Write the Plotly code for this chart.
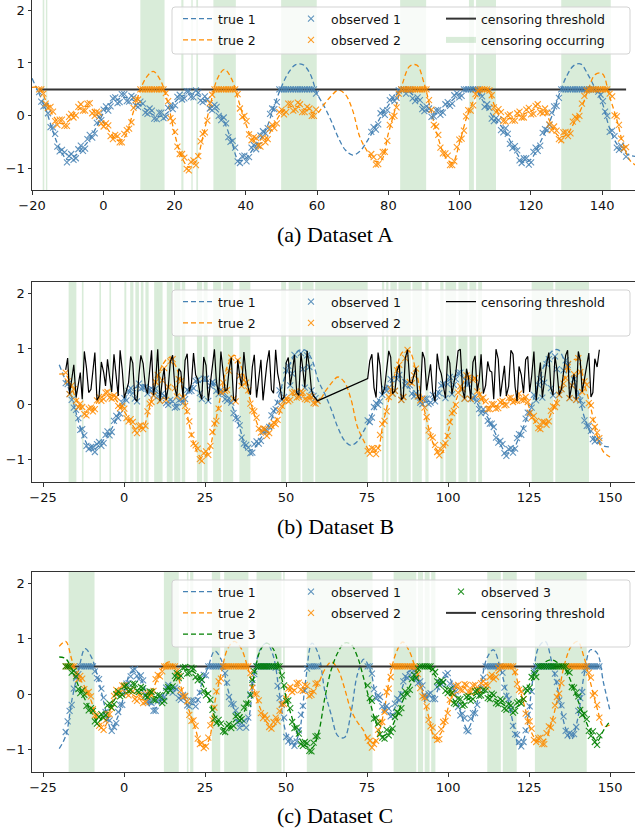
import plotly.graph_objects as go

# ---------------- data ----------------
TRUE_X = list(range(-20, 152, 2))

# Datasets A and B share the same latent functions
TRUE1_AB = [0.71, 0.42, 0.10, -0.32, -0.65, -0.83, -0.76, -0.62, -0.46, -0.22,
            0.05, 0.24, 0.31, 0.35, 0.31, 0.22, 0.12, 0.02, -0.01, 0.06,
            0.25, 0.37, 0.41, 0.41, 0.32, 0.20, 0.10, -0.12, -0.48, -0.84,
            -0.80, -0.63, -0.45, -0.20, 0.20, 0.55, 0.82, 0.97, 0.97, 0.80,
            0.42, 0.18, -0.10, -0.42, -0.65, -0.74, -0.67, -0.48, -0.25, 0.00,
            0.20, 0.38, 0.50, 0.45, 0.30, 0.15, 0.05, 0.05, 0.15, 0.30,
            0.42, 0.50, 0.52, 0.34, 0.12, -0.08, -0.22, -0.45, -0.70, -0.88,
            -0.82, -0.58, -0.30, 0.02, 0.42, 0.75, 0.95, 0.98, 0.78, 0.52,
            0.25, -0.22, -0.52, -0.68, -0.75, -0.77]
TRUE2_AB = [0.54, 0.53, 0.27, 0.00, -0.14, -0.11, 0.06, 0.16, 0.17, 0.04,
            -0.12, -0.32, -0.46, -0.40, -0.02, 0.42, 0.72, 0.84, 0.68, 0.28,
            -0.33, -0.78, -0.97, -0.86, -0.38, 0.20, 0.70, 0.88, 0.70, 0.28,
            -0.15, -0.45, -0.52, -0.40, -0.16, 0.06, 0.16, 0.18, 0.14, 0.08,
            0.05, 0.22, 0.38, 0.49, 0.40, 0.10, -0.40, -0.66, -0.85, -0.84,
            -0.33, 0.15, 0.62, 0.94, 0.96, 0.62, 0.08, -0.42, -0.78, -0.88,
            -0.50, -0.02, 0.30, 0.50, 0.48, 0.16, -0.04, -0.05, -0.01, 0.04,
            0.09, 0.15, 0.08, -0.22, -0.39, -0.36, -0.14, 0.12, 0.48, 0.78,
            0.80, 0.38, -0.05, -0.56, -0.86, -0.95]

TRUE1_C = [-0.98, -0.75, -0.08, 0.44, 0.82, 0.66, 0.28, -0.20, -0.62, -0.42,
           -0.02, 0.38, 0.40, 0.18, -0.22, -0.24, -0.02, 0.14, 0.04, -0.06,
           -0.16, -0.18, 0.20, 0.50, 0.78, 0.62, 0.10, -0.28, -0.58, -0.50,
           0.30, 0.80, 0.92, 0.70, 0.00, -0.70, -0.94, -0.70, 0.22, 0.92,
           0.72, 0.05, -0.38, -0.75, -0.78, -0.35, 0.35, 0.63, 0.44, -0.06,
           -0.18, -0.36, -0.20, 0.14, 0.42, 0.34, 0.10, -0.06, -0.02, 0.25,
           0.32, 0.06, -0.35, -0.63, -0.36, 0.12, 0.65, 0.80, 0.50, 0.04,
           -0.50, -0.95, -0.70, 0.20, 0.85, 0.95, 0.58, 0.04, -0.56, -0.82,
           -0.45, 0.35, 0.80, 0.74, 0.20, -0.30]
TRUE2_C = [0.86, 0.95, 0.60, 0.32, 0.12, -0.14, -0.50, -0.58, -0.22, 0.08,
           0.10, 0.02, -0.06, -0.10, -0.02, 0.24, 0.50, 0.58, 0.42, 0.05,
           -0.28, -0.62, -0.94, -0.85, -0.15, 0.38, 0.82, 0.95, 0.84, 0.52,
           0.10, -0.25, -0.50, -0.58, -0.36, -0.02, 0.12, 0.15, 0.10, 0.05,
           0.20, 0.45, 0.58, 0.45, 0.12, -0.28, -0.50, -0.66, -0.92, -0.78,
           -0.38, 0.30, 0.75, 0.94, 0.78, 0.45, 0.05, -0.40, -0.80, -0.68,
           -0.25, 0.08, 0.14, 0.10, 0.10, 0.14, 0.20, 0.32, 0.44, 0.53,
           0.45, 0.12, -0.30, -0.72, -0.86, -0.82, -0.50, -0.02, 0.55, 0.86,
           0.95, 0.66, 0.20, -0.25, -0.58, -0.55]
TRUE3_C = [0.67, 0.64, 0.43, 0.14, -0.10, -0.33, -0.50, -0.33, -0.20, -0.02,
           0.08, 0.13, 0.12, 0.05, -0.01, -0.06, -0.10, 0.10, 0.30, 0.42,
           0.44, 0.38, 0.20, -0.05, -0.40, -0.60, -0.63, -0.48, -0.40, -0.20,
           0.30, 0.78, 0.92, 0.82, 0.45, -0.05, -0.45, -0.78, -0.93, -0.97,
           -0.70, -0.06, 0.45, 0.75, 0.92, 0.90, 0.68, 0.28, -0.16, -0.55,
           -0.75, -0.65, -0.42, -0.12, 0.12, 0.34, 0.50, 0.48, 0.34, 0.18,
           0.08, -0.12, -0.16, -0.10, -0.02, 0.04, 0.00, -0.07, -0.14, -0.22,
           -0.27, -0.18, 0.05, 0.27, 0.45, 0.58, 0.62, 0.56, 0.46, 0.22,
           -0.10, -0.40, -0.68, -0.85, -0.65, -0.48]

# observation times (two interleaved sets)
OBS_X = [-18.0, -16.8, -15.5, -14.1, -12.9, -11.6, -10.2, -9.0, -7.7, -6.3,
         -5.1, -3.8, -2.4, -1.2, 0.1, 1.4, 2.7, 4.0, 5.2, 6.6,
         7.9, 9.1, 10.4, 11.8, 13.0, 14.3, 15.7, 16.9, 18.2, 19.5,
         20.8, 22.1, 23.4, 24.6, 26.0, 27.3, 28.5, 29.9, 31.2, 32.4,
         33.8, 35.1, 36.3, 37.7, 39.0, 40.2, 41.6, 42.9, 44.1, 45.5,
         46.8, 48.0, 49.4, 50.7, 51.9, 53.3, 54.6, 55.8, 57.2, 58.5, 59.7,
         75.2, 76.5, 77.8, 79.0, 80.4, 81.7, 82.9, 84.3, 85.6, 86.8,
         88.2, 89.5, 90.7, 92.1, 93.4, 94.6, 96.0, 97.3, 98.5, 99.9,
         101.2, 102.4, 103.8, 105.1, 106.3, 107.7, 109.0, 110.2, 111.6, 112.9,
         114.1, 115.5, 116.8, 118.0, 119.4, 120.7, 121.9, 123.3, 124.6, 125.8,
         127.2, 128.5, 129.7, 131.1, 132.4, 133.6, 135.0, 136.3, 137.5, 138.9,
         140.2, 141.4, 142.8, 144.1, 145.3, 146.7]
OBS_X2 = [-17.4, -16.15, -14.8, -13.5, -12.25, -10.9, -9.6, -8.35, -7.0, -5.7,
          -4.45, -3.1, -1.8, -0.55, 0.75, 2.05, 3.35, 4.6, 5.9, 7.25,
          8.5, 9.75, 11.1, 12.4, 13.65, 15.0, 16.3, 17.55, 18.85, 20.15,
          21.45, 22.75, 24.0, 25.3, 26.65, 27.9, 29.2, 30.55, 31.8, 33.1,
          34.45, 35.7, 37.0, 38.35, 39.6, 40.9, 42.25, 43.5, 44.8, 46.15,
          47.4, 48.7, 50.05, 51.3, 52.6, 53.95, 55.2, 56.5, 57.85, 59.1,
          75.85, 77.15, 78.4, 79.7, 81.05, 82.3, 83.6, 84.95, 86.2, 87.5,
          88.85, 90.1, 91.4, 92.75, 94.0, 95.3, 96.65, 97.9, 99.2, 100.55,
          101.8, 103.1, 104.45, 105.7, 107.0, 108.35, 109.6, 110.9, 112.25, 113.5,
          114.8, 116.15, 117.4, 118.7, 120.05, 121.3, 122.6, 123.95, 125.2, 126.5,
          127.85, 129.1, 130.4, 131.75, 133.0, 134.3, 135.65, 136.9, 138.2, 139.55,
          140.8, 142.1, 143.45, 144.7, 146.0]

OBS1_A = [0.45, 0.18, 0.05, -0.22, -0.58, -0.64, -0.88, -0.72, -0.80, -0.56,
          -0.62, -0.36, -0.33, -0.02, 0.12, 0.10, 0.33, 0.24, 0.41, 0.28,
          0.38, 0.20, 0.27, 0.06, 0.14, -0.05, 0.06, -0.04, 0.15, 0.13,
          0.36, 0.31, 0.47, 0.36, 0.48, 0.29, 0.37, 0.14, 0.21, 0.00,
          -0.03, -0.40, -0.47, -0.86, -0.76, -0.86, -0.60, -0.63, -0.37, -0.33,
          0.04, 0.13, 0.50, 0.50, 0.50, 0.50, 0.50, 0.50, 0.50, 0.50, 0.42,
          -0.30, -0.26, 0.05, 0.02, 0.30, 0.28, 0.48, 0.50, 0.50, 0.33,
          0.35, 0.13, 0.18, -0.02, 0.11, 0.02, 0.22, 0.19, 0.39, 0.35,
          0.50, 0.50, 0.50, 0.50, 0.37, 0.22, -0.05, -0.04, -0.27, -0.23,
          -0.53, -0.57, -0.84, -0.80, -0.92, -0.68, -0.66, -0.32, -0.27, 0.06,
          0.19, 0.50, 0.50, 0.50, 0.50, 0.50, 0.50, 0.50, 0.50, 0.46,
          0.28, 0.00, -0.28, -0.60, -0.56, -0.77]
OBS1_A2 = [0.27, 0.19, -0.21, -0.34, -0.67, -0.69, -0.76, -0.83, -0.63, -0.66,
           -0.44, -0.41, -0.13, -0.08, 0.18, 0.18, 0.35, 0.26, 0.41, 0.27,
           0.35, 0.17, 0.23, 0.04, 0.10, -0.06, 0.06, -0.02, 0.20, 0.20,
           0.40, 0.33, 0.47, 0.35, 0.44, 0.26, 0.31, 0.11, 0.17, -0.08,
           -0.14, -0.49, -0.60, -0.89, -0.75, -0.78, -0.55, -0.56, -0.29, -0.23,
           0.14, 0.26, 0.50, 0.50, 0.50, 0.50, 0.50, 0.50, 0.50, 0.50,
           -0.21, -0.16, 0.10, 0.11, 0.35, 0.34, 0.50, 0.42, 0.49, 0.28,
           0.30, 0.09, 0.14, -0.01, 0.11, 0.06, 0.26, 0.23, 0.43, 0.38,
           0.50, 0.50, 0.50, 0.43, 0.17, 0.15, -0.10, -0.08, -0.31, -0.34,
           -0.61, -0.65, -0.89, -0.80, -0.88, -0.60, -0.56, -0.25, -0.17, 0.18,
           0.34, 0.50, 0.50, 0.50, 0.50, 0.50, 0.50, 0.50, 0.50, 0.40,
           0.08, -0.30, -0.38, -0.64, -0.62]
OBS2_A = [0.50, 0.42, 0.15, 0.08, -0.17, -0.07, -0.19, 0.04, 0.01, 0.22,
          0.10, 0.24, 0.00, 0.06, -0.20, -0.18, -0.44, -0.38, -0.50, -0.27,
          -0.12, 0.30, 0.50, 0.50, 0.50, 0.50, 0.50, 0.50, 0.28, -0.10,
          -0.58, -0.72, -1.00, -0.87, -0.93, -0.48, -0.31, 0.24, 0.50, 0.50,
          0.50, 0.50, 0.50, 0.41, -0.02, -0.10, -0.46, -0.42, -0.58, -0.50,
          -0.24, -0.23, 0.07, 0.03, 0.23, 0.10, 0.25, 0.07, 0.17, 0.00, 0.12,
          -0.72, -0.92, -0.78, -0.68, -0.17, 0.00, 0.42, 0.50, 0.50, 0.50,
          0.50, 0.50, 0.50, 0.12, -0.20, -0.60, -0.71, -0.93, -0.86, -0.45,
          -0.28, 0.11, 0.20, 0.48, 0.50, 0.50, 0.39, 0.07, 0.07, -0.11,
          0.03, -0.09, 0.08, -0.03, 0.15, 0.04, 0.22, 0.05, 0.06, -0.27,
          -0.28, -0.46, -0.30, -0.33, -0.02, 0.00, 0.38, 0.50, 0.50, 0.50,
          0.50, 0.50, 0.37, -0.01, -0.43, -0.59]
OBS2_A2 = [0.50, 0.23, 0.17, -0.10, -0.07, -0.19, -0.02, -0.03, 0.17, 0.10,
           0.23, 0.05, 0.08, -0.14, -0.14, -0.38, -0.36, -0.50, -0.34, -0.24,
           0.15, 0.31, 0.50, 0.50, 0.50, 0.50, 0.50, 0.43, -0.04, -0.30,
           -0.72, -0.79, -1.03, -0.84, -0.76, -0.34, -0.09, 0.40, 0.50, 0.50,
           0.50, 0.50, 0.50, 0.14, 0.00, -0.35, -0.40, -0.56, -0.41, -0.44,
           -0.17, -0.14, 0.12, 0.07, 0.23, 0.12, 0.22, 0.07, 0.14, 0.00,
           -0.78, -0.91, -0.68, -0.47, -0.02, 0.16, 0.50, 0.50, 0.50, 0.50,
           0.50, 0.50, 0.30, -0.17, -0.36, -0.71, -0.75, -0.93, -0.59, -0.43,
           -0.01, 0.10, 0.41, 0.50, 0.50, 0.48, 0.16, 0.13, -0.10, 0.01,
           -0.09, 0.05, -0.03, 0.12, 0.03, 0.19, 0.07, 0.14, -0.16, -0.20,
           -0.44, -0.31, -0.38, -0.11, -0.06, 0.23, 0.48, 0.50, 0.50, 0.50,
           0.50, 0.42, 0.01, -0.17, -0.62]

THRESH_B = [0.62, 0.18, 0.71, 0.35, 0.09, 0.66, 0.27, 0.93, 0.14, 0.58,
            0.81, 0.22, 0.47, 0.97, 0.11, 0.39, 0.74, 0.05, 0.88, 0.31,
            0.56, 0.16, 0.99, 0.43, 0.08, 0.77, 0.29, 0.64, 0.12, 0.91,
            0.37, 0.53, 0.20, 0.85, 0.06, 0.69, 0.41, 0.95, 0.24, 0.60,
            0.10, 0.79, 0.33, 0.50, 0.17, 0.89, 0.45, 0.07, 0.73, 0.26,
            0.98, 0.38, 0.13, 0.84, 0.55, 0.21, 0.92, 0.30, 0.67, 0.15, 0.06,
            0.46, 0.90, 0.12, 0.70, 0.28, 0.96, 0.19, 0.61, 0.08, 0.83,
            0.40, 0.52, 0.14, 0.94, 0.25, 0.72, 0.05, 0.65, 0.36, 0.87,
            0.18, 0.57, 0.99, 0.10, 0.48, 0.76, 0.23, 0.90, 0.34, 0.60,
            0.09, 0.81, 0.44, 0.15, 0.97, 0.31, 0.68, 0.20, 0.86, 0.50,
            0.07, 0.75, 0.39, 0.93, 0.16, 0.63, 0.27, 0.88, 0.11, 0.54,
            0.95, 0.22, 0.71, 0.13, 0.82, 0.98]
THRESH_B2 = [0.83, 0.44, 0.12, 0.57, 0.95, 0.21, 0.68, 0.07, 0.76, 0.33,
             0.49, 0.90, 0.15, 0.62, 0.28, 0.86, 0.10, 0.53, 0.73, 0.19,
             0.97, 0.40, 0.06, 0.65, 0.31, 0.88, 0.14, 0.58, 0.79, 0.23,
             0.92, 0.45, 0.09, 0.70, 0.36, 0.99, 0.18, 0.61, 0.26, 0.84,
             0.05, 0.51, 0.94, 0.29, 0.67, 0.12, 0.80, 0.42, 0.97, 0.20,
             0.56, 0.08, 0.75, 0.34, 0.89, 0.16, 0.63, 0.96, 0.25, 0.11,
             0.78, 0.30, 0.93, 0.17, 0.60, 0.85, 0.24, 0.71, 0.13, 0.98,
             0.38, 0.66, 0.07, 0.82, 0.47, 0.20, 0.91, 0.55, 0.11, 0.74,
             0.35, 0.96, 0.27, 0.64, 0.09, 0.87, 0.42, 0.19, 0.77, 0.58,
             0.99, 0.14, 0.69, 0.32, 0.90, 0.06, 0.53, 0.80, 0.22, 0.95,
             0.40, 0.12, 0.72, 0.29, 0.86, 0.17, 0.61, 0.97, 0.34, 0.08,
             0.79, 0.45, 0.92, 0.21, 0.67]
OBS1_B = [0.38, 0.18, -0.06, -0.25, -0.45, -0.75, -0.77, -0.86, -0.68, -0.70,
          -0.49, -0.50, -0.21, -0.17, 0.11, 0.24, 0.20, 0.05, 0.28, 0.31,
          0.26, 0.16, 0.14, 0.19, 0.02, 0.08, -0.06, 0.07, 0.03, 0.26,
          0.24, 0.42, 0.20, 0.46, 0.06, 0.40, 0.24, 0.26, 0.09, 0.11,
          -0.16, -0.27, -0.60, -0.73, -0.88, -0.72, -0.71, -0.50, -0.49, -0.20,
          -0.09, 0.25, 0.13, 0.69, 0.55, 0.21, 0.92, 0.30, 0.67, 0.15, 0.06,
          -0.29, -0.24, 0.02, 0.05, 0.28, 0.30, 0.19, 0.45, 0.08, 0.34,
          0.34, 0.14, 0.14, 0.00, 0.10, 0.03, 0.05, 0.20, 0.36, 0.36,
          0.18, 0.45, 0.57, 0.10, 0.36, 0.10, 0.06, -0.16, -0.15, -0.35,
          -0.41, -0.69, -0.72, -0.93, -0.79, -0.80, -0.54, -0.44, -0.15, -0.06,
          0.07, 0.45, 0.39, 0.81, 0.16, 0.63, 0.27, 0.79, 0.11, 0.45,
          0.17, -0.01, -0.39, -0.48, -0.67, -0.66]
OBS1_B2 = [0.36, 0.08, -0.10, -0.46, -0.56, -0.81, -0.77, -0.72, -0.75, -0.55,
           -0.56, -0.30, -0.25, 0.03, 0.07, 0.29, 0.10, 0.37, 0.30, 0.19,
           0.24, 0.28, 0.06, 0.15, -0.01, 0.05, -0.05, 0.09, 0.09, 0.23,
           0.29, 0.44, 0.09, 0.46, 0.33, 0.37, 0.18, 0.22, 0.06, 0.03,
           -0.25, -0.38, -0.71, -0.78, -0.87, -0.67, -0.66, -0.45, -0.41, -0.12,
           0.03, 0.08, 0.61, 0.34, 0.89, 0.16, 0.63, 0.88, 0.25, 0.11,
           -0.32, -0.05, -0.01, 0.17, 0.24, 0.45, 0.24, 0.53, 0.13, 0.39,
           0.19, 0.20, 0.03, 0.10, 0.00, 0.17, 0.15, 0.34, 0.11, 0.49,
           0.35, 0.56, 0.27, 0.42, 0.09, 0.14, -0.09, -0.09, -0.30, -0.35,
           -0.60, -0.66, -0.88, -0.81, -0.87, -0.61, -0.55, -0.26, -0.16, 0.17,
           0.35, 0.12, 0.72, 0.29, 0.86, 0.17, 0.61, 0.71, 0.34, 0.08,
           0.07, -0.29, -0.39, -0.63, -0.63]
OBS2_B = [0.57, 0.18, 0.27, -0.05, -0.05, -0.20, -0.06, -0.09, 0.13, 0.09,
          0.22, 0.10, 0.13, -0.07, -0.08, -0.31, -0.32, -0.52, -0.38, -0.39,
          0.01, 0.16, 0.53, 0.43, 0.08, 0.77, 0.29, 0.45, 0.12, -0.13,
          -0.55, -0.74, -0.99, -0.88, -0.91, -0.50, -0.30, 0.22, 0.24, 0.60,
          0.10, 0.79, 0.33, 0.39, 0.01, -0.13, -0.44, -0.44, -0.57, -0.39,
          -0.36, -0.11, 0.06, 0.05, 0.21, 0.12, 0.23, 0.09, 0.15, 0.02, 0.06,
          -0.84, -0.79, -0.90, -0.55, -0.30, 0.13, 0.19, 0.61, 0.08, 0.83,
          0.40, 0.52, 0.14, 0.10, -0.23, -0.58, -0.73, -0.92, -0.74, -0.57,
          -0.16, -0.01, 0.32, 0.10, 0.48, 0.44, 0.23, 0.09, 0.05, -0.09,
          0.00, -0.07, 0.06, -0.01, 0.12, 0.06, 0.19, 0.07, 0.04, -0.24,
          -0.30, -0.45, -0.32, -0.31, -0.04, 0.02, 0.27, 0.47, 0.11, 0.54,
          0.83, 0.22, 0.35, -0.02, -0.41, -0.61]
OBS2_B2 = [0.41, 0.34, 0.06, 0.01, -0.18, -0.08, -0.13, 0.07, 0.06, 0.21,
           0.12, 0.16, -0.03, -0.03, -0.25, -0.27, -0.47, -0.39, -0.45, -0.13,
           0.04, 0.40, 0.06, 0.65, 0.31, 0.81, 0.14, 0.42, -0.03, -0.31,
           -0.71, -0.80, -1.02, -0.85, -0.75, -0.35, -0.08, 0.39, 0.26, 0.84,
           0.05, 0.51, 0.44, 0.25, -0.11, -0.24, -0.51, -0.45, -0.52, -0.33,
           -0.28, -0.03, 0.11, 0.08, 0.22, 0.13, 0.21, 0.08, 0.13, 0.01,
           -0.89, -0.80, -0.79, -0.36, -0.13, 0.27, 0.24, 0.71, 0.13, 0.98,
           0.38, 0.64, 0.07, -0.06, -0.47, -0.60, -0.86, -0.82, -0.70, -0.32,
           -0.12, 0.21, 0.27, 0.52, 0.09, 0.47, 0.17, 0.12, -0.09, 0.00,
           -0.08, 0.04, -0.02, 0.11, 0.04, 0.06, 0.08, 0.13, -0.15, -0.21,
           -0.43, -0.32, -0.37, -0.12, -0.05, 0.17, 0.37, 0.67, 0.34, 0.08,
           0.58, 0.41, 0.02, -0.28, -0.51]

OBS1_C = [-0.68, -0.30, 0.10, 0.36, 0.50, 0.50, 0.50, 0.41, 0.27, -0.06,
          -0.45, -0.66, -0.52, -0.19, 0.06, 0.20, 0.44, 0.33, 0.34, 0.00,
          -0.14, -0.30, -0.13, -0.10, 0.12, 0.07, 0.12, -0.07, -0.01, -0.20,
          -0.11, -0.22, 0.03, 0.35, 0.50, 0.50, 0.50, 0.50, 0.38, -0.05,
          -0.18, -0.50, -0.52, -0.60, 0.00, 0.36, 0.50, 0.50, 0.50, 0.50,
          0.48, -0.07, -0.42, -0.85, -0.87, -0.85, -0.37, 0.07, 0.50, 0.50, 0.50,
          0.50, 0.37, -0.08, -0.05, -0.28, -0.26, -0.37, -0.08, 0.00, 0.32,
          0.35, 0.43, 0.20, 0.16, -0.08, 0.02, -0.09, 0.22, 0.21, 0.38,
          0.10, 0.05, -0.38, -0.43, -0.67, -0.34, -0.19, 0.11, 0.50, 0.50,
          0.50, 0.50, 0.39, -0.03, -0.27, -0.72, -0.86, -0.86, -0.37, 0.05,
          0.50, 0.50, 0.50, 0.50, 0.50, 0.22, -0.20, -0.66, -0.70, -0.72,
          -0.30, 0.04, 0.50, 0.50, 0.50, 0.50]
OBS1_C2 = [-0.49, -0.19, 0.29, 0.50, 0.50, 0.50, 0.50, 0.29, 0.10, -0.32,
           -0.47, -0.59, -0.32, -0.19, 0.19, 0.32, 0.45, 0.27, 0.25, -0.13,
           -0.16, -0.30, -0.06, -0.05, 0.17, 0.03, 0.09, -0.10, -0.04, -0.22,
           -0.11, -0.10, 0.26, 0.34, 0.50, 0.50, 0.50, 0.50, 0.21, -0.17,
           -0.29, -0.60, -0.48, -0.42, 0.20, 0.50, 0.50, 0.50, 0.50, 0.50,
           0.15, -0.19, -0.77, -0.80, -0.93, -0.65, -0.21, 0.46, 0.50, 0.50,
           0.50, 0.09, -0.02, -0.22, -0.21, -0.40, -0.17, -0.10, 0.23, 0.29,
           0.45, 0.27, 0.23, -0.02, 0.00, -0.09, 0.13, 0.18, 0.35, 0.19,
           0.15, -0.23, -0.35, -0.65, -0.44, -0.34, 0.08, 0.30, 0.50, 0.50,
           0.50, 0.50, 0.12, -0.09, -0.57, -0.73, -0.94, -0.65, -0.22, 0.42,
           0.50, 0.50, 0.50, 0.50, 0.37, -0.11, -0.40, -0.74, -0.72, -0.59,
           -0.07, 0.43, 0.50, 0.50, 0.50]
OBS2_C = [0.50, 0.50, 0.50, 0.27, 0.28, 0.02, -0.04, -0.38, -0.57, -0.64,
          -0.36, -0.25, 0.08, 0.03, 0.16, -0.02, 0.05, -0.12, -0.02, -0.14,
          0.03, 0.06, 0.35, 0.41, 0.50, 0.50, 0.50, 0.32, -0.04, -0.13,
          -0.48, -0.57, -0.90, -0.97, -0.78, -0.46, 0.05, 0.28, 0.50, 0.50,
          0.50, 0.50, 0.50, 0.50, 0.38, 0.00, -0.11, -0.43, -0.44, -0.62,
          -0.42, -0.30, -0.18, 0.10, 0.04, 0.20, 0.08, 0.17, -0.03, 0.05, 0.20,
          -0.78, -0.96, -0.84, -0.50, -0.32, 0.10, 0.50, 0.50, 0.50, 0.50,
          0.50, 0.50, 0.36, -0.04, -0.22, -0.58, -0.74, -0.81, -0.50, -0.34,
          0.03, 0.15, 0.08, 0.18, 0.04, 0.16, 0.06, 0.20, 0.13, 0.31,
          0.27, 0.47, 0.50, 0.50, 0.50, 0.40, 0.08, -0.09, -0.49, -0.62,
          -0.86, -0.78, -0.90, -0.58, -0.47, -0.05, 0.20, 0.50, 0.50, 0.50,
          0.50, 0.50, 0.50, 0.30, 0.02, -0.42]
OBS2_C2 = [0.50, 0.50, 0.37, 0.33, 0.09, 0.04, -0.27, -0.38, -0.60, -0.47,
           -0.36, -0.03, 0.02, 0.16, 0.01, 0.08, -0.09, -0.01, -0.16, 0.01,
           -0.02, 0.27, 0.32, 0.50, 0.50, 0.50, 0.42, 0.07, -0.03, -0.37,
           -0.47, -0.80, -0.88, -0.94, -0.56, -0.24, 0.23, 0.50, 0.50, 0.50,
           0.50, 0.50, 0.50, 0.50, 0.12, 0.00, -0.34, -0.38, -0.59, -0.50,
           -0.49, -0.18, -0.08, 0.13, 0.07, 0.21, 0.06, 0.15, -0.01, 0.19,
           -0.84, -0.90, -0.64, -0.50, 0.04, 0.31, 0.50, 0.50, 0.50, 0.50,
           0.50, 0.49, 0.11, -0.06, -0.46, -0.60, -0.82, -0.63, -0.48, -0.10,
           -0.01, 0.17, 0.07, 0.17, 0.04, 0.17, 0.07, 0.23, 0.16, 0.35,
           0.31, 0.50, 0.50, 0.50, 0.50, 0.18, 0.05, -0.35, -0.49, -0.82,
           -0.79, -0.90, -0.70, -0.60, -0.20, 0.01, 0.50, 0.50, 0.50, 0.50,
           0.50, 0.50, 0.39, -0.02, -0.19]
OBS3_C = [0.50, 0.50, 0.42, 0.09, 0.07, -0.21, -0.25, -0.49, -0.41, -0.42,
          -0.20, -0.24, 0.00, -0.04, 0.14, 0.06, 0.19, 0.06, 0.13, -0.03,
          0.05, -0.10, -0.01, -0.16, 0.06, 0.07, 0.33, 0.29, 0.48, 0.37,
          0.48, 0.31, 0.32, 0.06, 0.01, -0.28, -0.52, -0.53, -0.68, -0.54,
          -0.57, -0.37, -0.45, -0.17, -0.02, 0.41, 0.50, 0.50, 0.50, 0.50,
          0.50, 0.50, 0.16, -0.11, -0.50, -0.60, -0.90, -0.86, -1.02, -0.87, -0.75,
          0.16, -0.12, -0.43, -0.72, -0.80, -0.74, -0.62, -0.32, -0.25, 0.05,
          0.08, 0.35, 0.46, 0.50, 0.50, 0.50, 0.40, 0.17, 0.22, 0.02,
          0.02, -0.18, -0.09, -0.19, -0.03, -0.09, 0.07, -0.02, 0.07, -0.09,
          -0.01, -0.18, -0.12, -0.28, -0.20, -0.30, -0.13, -0.09, 0.06, 0.31,
          0.31, 0.50, 0.50, 0.50, 0.50, 0.50, 0.50, 0.50, 0.39, 0.12,
          -0.04, -0.37, -0.45, -0.75, -0.86, -0.74]
OBS3_C2 = [0.50, 0.39, 0.32, 0.02, -0.01, -0.29, -0.30, -0.53, -0.36, -0.37,
           -0.17, -0.18, 0.05, -0.01, 0.16, 0.07, 0.18, 0.04, 0.11, -0.05,
           0.04, -0.11, -0.02, -0.12, 0.13, 0.14, 0.38, 0.33, 0.49, 0.38,
           0.46, 0.25, 0.26, -0.02, -0.10, -0.44, -0.46, -0.67, -0.57, -0.61,
           -0.40, -0.47, -0.24, -0.17, 0.26, 0.50, 0.50, 0.50, 0.50, 0.50,
           0.50, 0.34, -0.12, -0.25, -0.61, -0.71, -0.93, -0.88, -1.03, -0.76,
           -0.07, -0.44, -0.53, -0.78, -0.64, -0.68, -0.41, -0.34, -0.04, 0.00,
           0.27, 0.29, 0.50, 0.50, 0.50, 0.45, 0.23, 0.25, 0.06, 0.09,
           -0.16, -0.08, -0.21, -0.05, -0.12, 0.05, -0.03, 0.08, -0.07, 0.01,
           -0.16, -0.09, -0.26, -0.18, -0.33, -0.15, -0.17, 0.10, 0.12, 0.38,
           0.50, 0.50, 0.50, 0.50, 0.50, 0.50, 0.50, 0.41, 0.13, 0.03,
           -0.28, -0.35, -0.66, -0.67, -0.91]

THRESH_AC = 0.5

# censoring intervals (start, end)
CENS_A_START = [-17.0, -16.1, 10.4, 21.9, 24.7, 26.1, 30.9, 49.9, 83.3, 102.6, 104.6, 128.5]
CENS_A_END = [-16.55, -15.7, 17.2, 22.5, 25.1, 26.6, 37.2, 59.9, 90.6, 104.0, 110.2, 142.4]
CENS_B_START = [-17.1, -13.0, -7.6, -4.5, 0.1, 1.9, 3.5, 5.2, 6.6, 9.3, 13.2, 15.5, 17.8, 22.5,
                24.6, 27.5, 30.5, 35.6, 48.5, 50.8, 55.0, 59.0, 79.6, 80.9, 82.2, 84.7, 89.0,
                93.0, 97.6, 99.2, 103.2, 106.6, 109.3, 125.8, 133.1]
CENS_B_END = [-14.7, -12.5, -7.1, -4.0, 0.7, 2.9, 4.6, 6.0, 7.6, 11.9, 15.0, 17.4, 18.9, 24.1,
              25.8, 30.0, 33.7, 39.0, 50.0, 54.5, 58.5, 75.2, 80.3, 81.6, 84.2, 88.5, 91.9,
              94.0, 98.6, 102.5, 106.0, 108.7, 110.5, 132.5, 143.5]
CENS_C_START = [-17.1, 12.3, 19.4, 20.4, 27.1, 30.9, 40.9, 49.1, 56.4, 83.2, 90.7, 92.8, 94.8,
                112.1, 116.9, 126.8]
CENS_C_END = [-9.1, 16.9, 19.9, 21.4, 29.7, 38.4, 48.6, 49.6, 76.7, 90.2, 92.3, 94.3, 96.1,
              116.3, 121.2, 142.8]

YLIM = (-1.4, 2.2)

for arr in (TRUE1_AB, TRUE2_AB, TRUE1_C, TRUE2_C, TRUE3_C):
    assert len(arr) == len(TRUE_X), len(arr)
for arr in (OBS1_A, OBS2_A, THRESH_B, OBS1_B, OBS2_B, OBS1_C, OBS2_C, OBS3_C):
    assert len(arr) == len(OBS_X), len(arr)
for arr in (OBS1_A2, OBS2_A2, THRESH_B2, OBS1_B2, OBS2_B2, OBS1_C2, OBS2_C2, OBS3_C2):
    assert len(arr) == len(OBS_X2), len(arr)

ALL_X = OBS_X + OBS_X2

# ---------------- styles ----------------
BLUE = "#4682B4"
ORANGE = "#FF8C00"
GREEN = "#008000"
SHADE = "rgba(0,128,0,0.15)"
W, H = 635, 831
ML = 32


def px_x(p):
    return (p - ML) / (W - ML)


def px_y(p):
    return 1 - p / H


fig = go.Figure()


def spans(starts, ends):
    xs, ys = [], []
    for a, b in zip(starts, ends):
        xs += [a, b, b, a, a, None]
        ys += [YLIM[0], YLIM[0], YLIM[1], YLIM[1], YLIM[0], None]
    return xs, ys


gid = [0]


def grp():
    gid[0] += 1
    return f"g{gid[0]}"


def add_panel(k, starts, ends, trues, obs, thr, legends, shade_legend):
    xa = "x" if k == 1 else f"x{k}"
    ya = "y" if k == 1 else f"y{k}"
    sx, sy = spans(starts, ends)
    fig.add_trace(go.Scatter(x=sx, y=sy, mode="none", fill="toself", fillcolor=SHADE,
                             name="censoring occurring", showlegend=shade_legend,
                             legend=legends[2], legendrank=2, legendgroup=grp(),
                             hoverinfo="skip", xaxis=xa, yaxis=ya))
    colors = [BLUE, ORANGE, GREEN]
    for i, t in enumerate(trues):
        fig.add_trace(go.Scatter(x=TRUE_X, y=t, mode="lines", name=f"true {i + 1}",
                                 line=dict(color=colors[i], width=1.3, dash="5px,3px", shape="spline"),
                                 legend=legends[0], legendrank=i + 1, legendgroup=grp(),
                                 xaxis=xa, yaxis=ya))
    if not isinstance(thr, tuple):
        fig.add_trace(go.Scatter(x=[OBS_X[0], OBS_X[-1]], y=[thr, thr], mode="lines",
                                 name="censoring threshold", line=dict(color="#333333", width=2),
                                 legend=legends[2], legendrank=1 if len(obs) < 3 else 2,
                                 legendgroup=grp(), xaxis=xa, yaxis=ya))
    for i, (o1, o2) in enumerate(obs):
        lg = legends[1] if i < 2 else legends[2]
        fig.add_trace(go.Scatter(x=ALL_X, y=o1 + o2, mode="markers", name=f"observed {i + 1}",
                                 marker=dict(symbol="x-thin", size=6, opacity=0.85,
                                             line=dict(color=colors[i], width=1.1)),
                                 legend=lg, legendrank=i + 1 if i < 2 else 1, legendgroup=grp(),
                                 xaxis=xa, yaxis=ya))
    if isinstance(thr, tuple):
        pts = sorted(zip(ALL_X, thr[0] + thr[1]))
        fig.add_trace(go.Scatter(x=[p[0] for p in pts], y=[p[1] for p in pts], mode="lines",
                                 name="censoring threshold", line=dict(color="black", width=1.2),
                                 legend=legends[2], legendrank=1, legendgroup=grp(),
                                 xaxis=xa, yaxis=ya))


add_panel(1, CENS_A_START, CENS_A_END, [TRUE1_AB, TRUE2_AB],
          [(OBS1_A, OBS1_A2), (OBS2_A, OBS2_A2)], THRESH_AC,
          ["legend", "legend2", "legend3"], True)
add_panel(2, CENS_B_START, CENS_B_END, [TRUE1_AB, TRUE2_AB],
          [(OBS1_B, OBS1_B2), (OBS2_B, OBS2_B2)], (THRESH_B, THRESH_B2),
          ["legend4", "legend5", "legend6"], False)
add_panel(3, CENS_C_START, CENS_C_END, [TRUE1_C, TRUE2_C, TRUE3_C],
          [(OBS1_C, OBS1_C2), (OBS2_C, OBS2_C2), (OBS3_C, OBS3_C2)], THRESH_AC,
          ["legend7", "legend8", "legend9"], False)

tickfont = dict(family="DejaVu Sans", size=13, color="#111")
axis_common = dict(showline=True, mirror=True, linecolor="#333", linewidth=1, ticks="outside",
                   ticklen=3.5, tickwidth=0.9, tickcolor="#333", showgrid=False, zeroline=False,
                   tickfont=tickfont)

doms = {1: (0, 190), 2: (282, 482), 3: (572, 772)}
layout = dict(width=W, height=H, margin=dict(l=ML, r=0, t=0, b=0), plot_bgcolor="white",
              paper_bgcolor="white", font=dict(family="DejaVu Sans", size=12.5, color="#111"))
for k in (1, 2, 3):
    xs_key = "xaxis" if k == 1 else f"xaxis{k}"
    ys_key = "yaxis" if k == 1 else f"yaxis{k}"
    top, bot = doms[k]
    if k == 1:
        xr, tv = [-20, 149.2], [-20, 0, 20, 40, 60, 80, 100, 120, 140]
        yr = [-1.4, 2.19]
    else:
        xr, tv = [-28.4, 157.7], [-25, 0, 25, 50, 75, 100, 125, 150]
        yr = list(YLIM)
    layout[xs_key] = dict(axis_common, domain=[0, 1], range=xr, tickvals=tv,
                          anchor="y" if k == 1 else f"y{k}")
    layout[ys_key] = dict(axis_common, domain=[px_y(bot), px_y(top)], range=yr,
                          tickvals=[-1, 0, 1, 2], anchor="x" if k == 1 else f"x{k}")

leg_font = dict(family="DejaVu Sans", size=12.5, color="#111")
col_px = [178, 291, 441]
row_top = {1: 4, 2: 287, 3: 577}
for k in (1, 2, 3):
    for c in range(3):
        idx = (k - 1) * 3 + c + 1
        key = "legend" if idx == 1 else f"legend{idx}"
        layout[key] = dict(x=px_x(col_px[c]), y=px_y(row_top[k]), xanchor="left", yanchor="top",
                           bgcolor="rgba(0,0,0,0)", borderwidth=0, font=leg_font,
                           orientation="v", tracegroupgap=2, itemclick=False)

fig.update_layout(**layout)


def rounded_box(x0p, x1p, y0p, y1p, r=3):
    x0, x1 = px_x(x0p), px_x(x1p)
    yt, yb = px_y(y0p), px_y(y1p)
    rx, ry = r / (W - ML), r / H
    return (f"M{x0 + rx},{yt} L{x1 - rx},{yt} Q{x1},{yt} {x1},{yt - ry} "
            f"L{x1},{yb + ry} Q{x1},{yb} {x1 - rx},{yb} L{x0 + rx},{yb} "
            f"Q{x0},{yb} {x0},{yb + ry} L{x0},{yt - ry} Q{x0},{yt} {x0 + rx},{yt} Z")


boxes = {1: (7, 54), 2: (290, 336), 3: (580, 647)}
for k, (t, b) in boxes.items():
    fig.add_shape(type="path", xref="paper", yref="paper", path=rounded_box(172, 630, t, b),
                  line=dict(color="#d3d3d3", width=1),
                  fillcolor="rgba(255,255,255,0.8)", layer="above")

captions = [("(a) Dataset A", 234), ("(b) Dataset B", 526), ("(c) Dataset C", 815)]
for txt, yp in captions:
    fig.add_annotation(text=txt, xref="paper", yref="paper", x=px_x(335), y=px_y(yp),
                       showarrow=False, xanchor="center", yanchor="middle",
                       font=dict(family="Liberation Serif", size=22, color="black"))

fig.write_html("out.html", post_script="document.body.style.margin='0';",
               config={"displayModeBar": False})
